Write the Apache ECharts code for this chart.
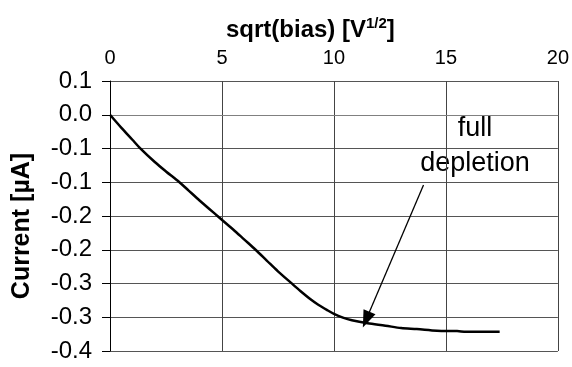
<!DOCTYPE html>
<html>
<head>
<meta charset="utf-8">
<style>
  html, body { margin: 0; padding: 0; background: #fff; }
  #chart { width: 572px; height: 367px; }
</style>
<script src="https://cdn.jsdelivr.net/npm/echarts@6/dist/echarts.min.js"></script>
</head>
<body>
<div id="chart"></div>
<script>
// Square root of reverse bias voltage [V^1/2]
const sqrtBias = [0, 0.5, 1.0, 1.33, 2.0, 2.5, 3.1, 3.5, 4.0, 4.8, 5.5, 6.0, 6.5, 7.0, 7.5,
  8.1, 8.5, 9.0, 9.3, 9.7, 10.0, 10.4, 10.8, 11.5, 12.3, 13.0, 13.7, 14.6, 15.5, 15.9, 16.5, 17.4];
// Measured current [µA]
const current = [0, -0.019, -0.037, -0.049, -0.070, -0.084, -0.100, -0.112, -0.127, -0.150,
  -0.170, -0.185, -0.200, -0.216, -0.232, -0.2495, -0.261, -0.2745, -0.2815, -0.2895, -0.2950,
  -0.3005, -0.3045, -0.3090, -0.3125, -0.3160, -0.3175, -0.3200, -0.3205, -0.3215, -0.3215, -0.3215];

// Axis tick labels (one decimal place, top to bottom)
const xTicks = ['0', '5', '10', '15', '20'];
const yTicks = ['0.1', '0.0', '-0.1', '-0.1', '-0.2', '-0.2', '-0.3', '-0.3', '-0.4'];

// Annotation arrow: text anchor to the knee of the curve
const arrowFrom = [14.0, -0.104];
const arrowTo = [11.44, -0.3035];

const FONT = '"Liberation Sans", Arial, sans-serif';
const yMax = 0.05, yStep = 0.05;

const chart = echarts.init(document.getElementById('chart'), null, { renderer: 'canvas' });
chart.setOption({
  animation: false,
  backgroundColor: '#fff',
  title: {
    text: 'sqrt(bias) [V{sup|1/2}]',
    left: 221,
    top: 11,
    textStyle: {
      fontFamily: FONT, fontSize: 24, fontWeight: 'bold', color: '#000',
      rich: { sup: { fontFamily: FONT, fontSize: 15, fontWeight: 'bold', color: '#000', verticalAlign: 'top', padding: [0, 0, 13, 0] } }
    }
  },
  grid: { left: 110, right: 11, top: 81, bottom: 16, containLabel: false },
  xAxis: {
    type: 'value',
    position: 'top',
    min: 0, max: 20, interval: 5,
    axisLine: { show: true, lineStyle: { color: '#808080', width: 1 } },
    axisTick: { show: false },
    axisLabel: {
      margin: 13, color: '#000', fontFamily: FONT, fontSize: 20,
      formatter: (v) => xTicks[Math.round(v / 5)]
    },
    splitLine: { show: true, lineStyle: { color: '#444', width: 1 } }
  },
  yAxis: {
    type: 'value',
    min: -0.35, max: 0.05, interval: 0.05,
    axisLine: { show: true, onZero: false, lineStyle: { color: '#000', width: 1 } },
    axisTick: { show: true, inside: false, length: 8, lineStyle: { color: '#000' } },
    axisLabel: {
      margin: 18, color: '#000', fontFamily: FONT, fontSize: 24,
      formatter: (v) => yTicks[Math.round((yMax - v) / yStep)]
    },
    splitLine: { show: true, lineStyle: { color: '#555', width: 1 } }
  },
  graphic: [
    {
      type: 'text', x: 22, y: 226, rotation: Math.PI / 2,
      style: { text: 'Current [µA]', fontFamily: FONT, fontSize: 25, fontWeight: 'bold', fill: '#000', align: 'center', verticalAlign: 'middle' }
    },
    {
      type: 'text', x: 475, y: 129,
      style: { text: 'full', fontFamily: FONT, fontSize: 27, fill: '#000', align: 'center', verticalAlign: 'middle' }
    },
    {
      type: 'text', x: 475, y: 164,
      style: { text: 'depletion', fontFamily: FONT, fontSize: 27, fill: '#000', align: 'center', verticalAlign: 'middle' }
    }
  ],
  series: [{
    type: 'line',
    data: sqrtBias.map((x, i) => [x, current[i]]),
    showSymbol: false,
    smooth: 0.3,
    lineStyle: { color: '#000', width: 2.5 },
    markLine: {
      silent: true,
      symbol: ['none', 'triangle'],
      symbolSize: [13, 17],
      label: { show: false },
      lineStyle: { color: '#000', width: 1.3, type: 'solid' },
      data: [[{ coord: arrowFrom }, { coord: arrowTo }]]
    }
  }]
});
</script>
</body>
</html>
